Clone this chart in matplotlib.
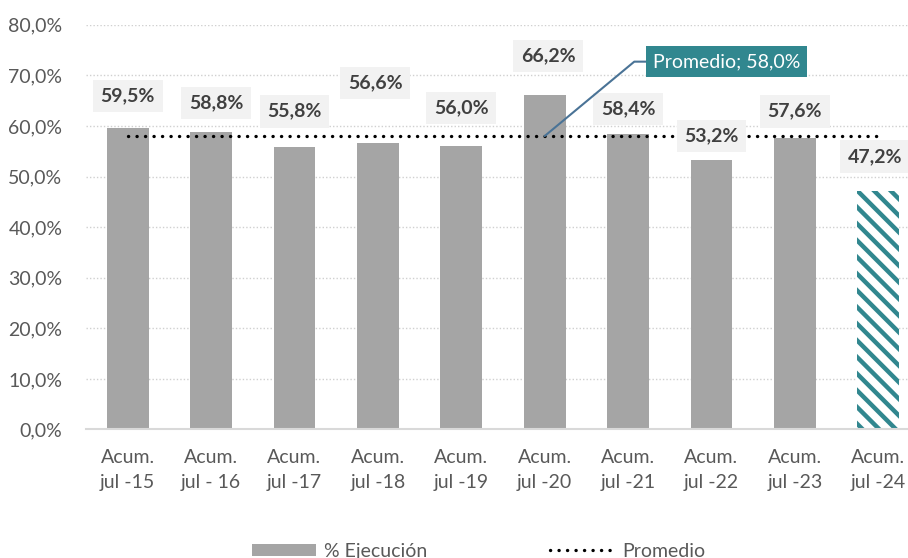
import matplotlib
matplotlib.use("Agg")
import matplotlib.pyplot as plt
from matplotlib.patches import Patch
from matplotlib.lines import Line2D

plt.rcParams['font.family'] = ['Lato', 'DejaVu Sans']
plt.rcParams['hatch.linewidth'] = 3.2

categories = ["Acum.\njul -15", "Acum.\njul - 16", "Acum.\njul -17", "Acum.\njul -18",
              "Acum.\njul -19", "Acum.\njul -20", "Acum.\njul -21", "Acum.\njul -22",
              "Acum.\njul -23", "Acum.\njul -24"]
ejecucion = [59.5, 58.8, 55.8, 56.6, 56.0, 66.2, 58.4, 53.2, 57.6, 47.2]
promedio = 58.0
y_ticks = [0, 10, 20, 30, 40, 50, 60, 70, 80]

# layout: label positions (x offset, y position in % units)
label_dx = [0.0, 0.06, 0.0, -0.03, 0.0, 0.04, 0.0, 0.0, 0.0, -0.04]
label_y = [65.9, 64.5, 62.9, 68.5, 63.5, 73.8, 63.3, 58.0, 62.9, 53.9]

GRAY = "#a5a5a5"
TEAL = "#31878f"
TXT = "#595959"

def fmt(v):
    return f"{v:.1f}".replace(".", ",") + "%"

fig = plt.figure(figsize=(9.08, 5.58), dpi=100)
ax = fig.add_axes([0.0947, 0.2303, 0.9185, 0.7254])

x = list(range(len(categories)))
n = len(categories)
for i in range(n):
    if i < n - 1:
        ax.bar(i, ejecucion[i], width=0.5, color=GRAY, zorder=2)
    else:
        ax.bar(i, ejecucion[i], width=0.5, facecolor="white", edgecolor=TEAL,
               hatch="\\\\", linewidth=0, zorder=2)

ax.plot(x, [promedio] * n, color="black", lw=2.4,
        linestyle=(0, (0.05, 2.5)), dash_capstyle="round", zorder=3)

for i in range(n):
    ax.text(i + label_dx[i], label_y[i], fmt(ejecucion[i]), ha="center", va="center",
            fontsize=14, fontweight="bold", color="#404040", zorder=5,
            bbox=dict(boxstyle="square,pad=0.4", facecolor="#f2f2f2", edgecolor="none"))

ax.annotate("Promedio; " + fmt(promedio), xy=(5, promedio), xytext=(7.18, 72.7),
            ha="center", va="center", fontsize=14, color="white", zorder=6,
            bbox=dict(boxstyle="square,pad=0.35", facecolor=TEAL, edgecolor="none"),
            arrowprops=dict(arrowstyle="-", color="#4a7396", lw=1.5, shrinkA=0, shrinkB=0,
                            connectionstyle="angle,angleA=0,angleB=39.7,rad=0"))

ax.set_xlim(-0.5, n - 0.5)
ax.set_ylim(0, 80)
ax.set_yticks(y_ticks)
ax.set_yticklabels([fmt(v) for v in y_ticks])
ax.set_xticks(x)
ax.set_xticklabels(categories, linespacing=1.6)
ax.tick_params(axis="both", length=0, labelsize=14, labelcolor=TXT)
ax.tick_params(axis="y", pad=17)
ax.tick_params(axis="x", pad=14)

ax.yaxis.grid(True, color="#d0d0d0", linestyle=(0, (1, 1.5)), lw=1.0, zorder=0)
ax.set_axisbelow(True)
for s in ["top", "right", "left"]:
    ax.spines[s].set_visible(False)
ax.spines["bottom"].set_color("#d9d9d9")
ax.spines["bottom"].set_linewidth(1.5)
ax.spines["bottom"].set_zorder(4)

handles = [Patch(facecolor=GRAY, edgecolor="none"),
           Line2D([0], [0], color="black", lw=2.4, linestyle=(0, (0.05, 2.5)),
                  dash_capstyle="round")]
fig.legend(handles, ["% Ejecución", "Promedio"], loc="center", bbox_to_anchor=(0.527, 0.012),
           ncol=2, frameon=False, fontsize=14, labelcolor=TXT, handlelength=3.3,
           handleheight=0.6, columnspacing=6.3, handletextpad=0.4)

fig.savefig("out.png", dpi=100)
